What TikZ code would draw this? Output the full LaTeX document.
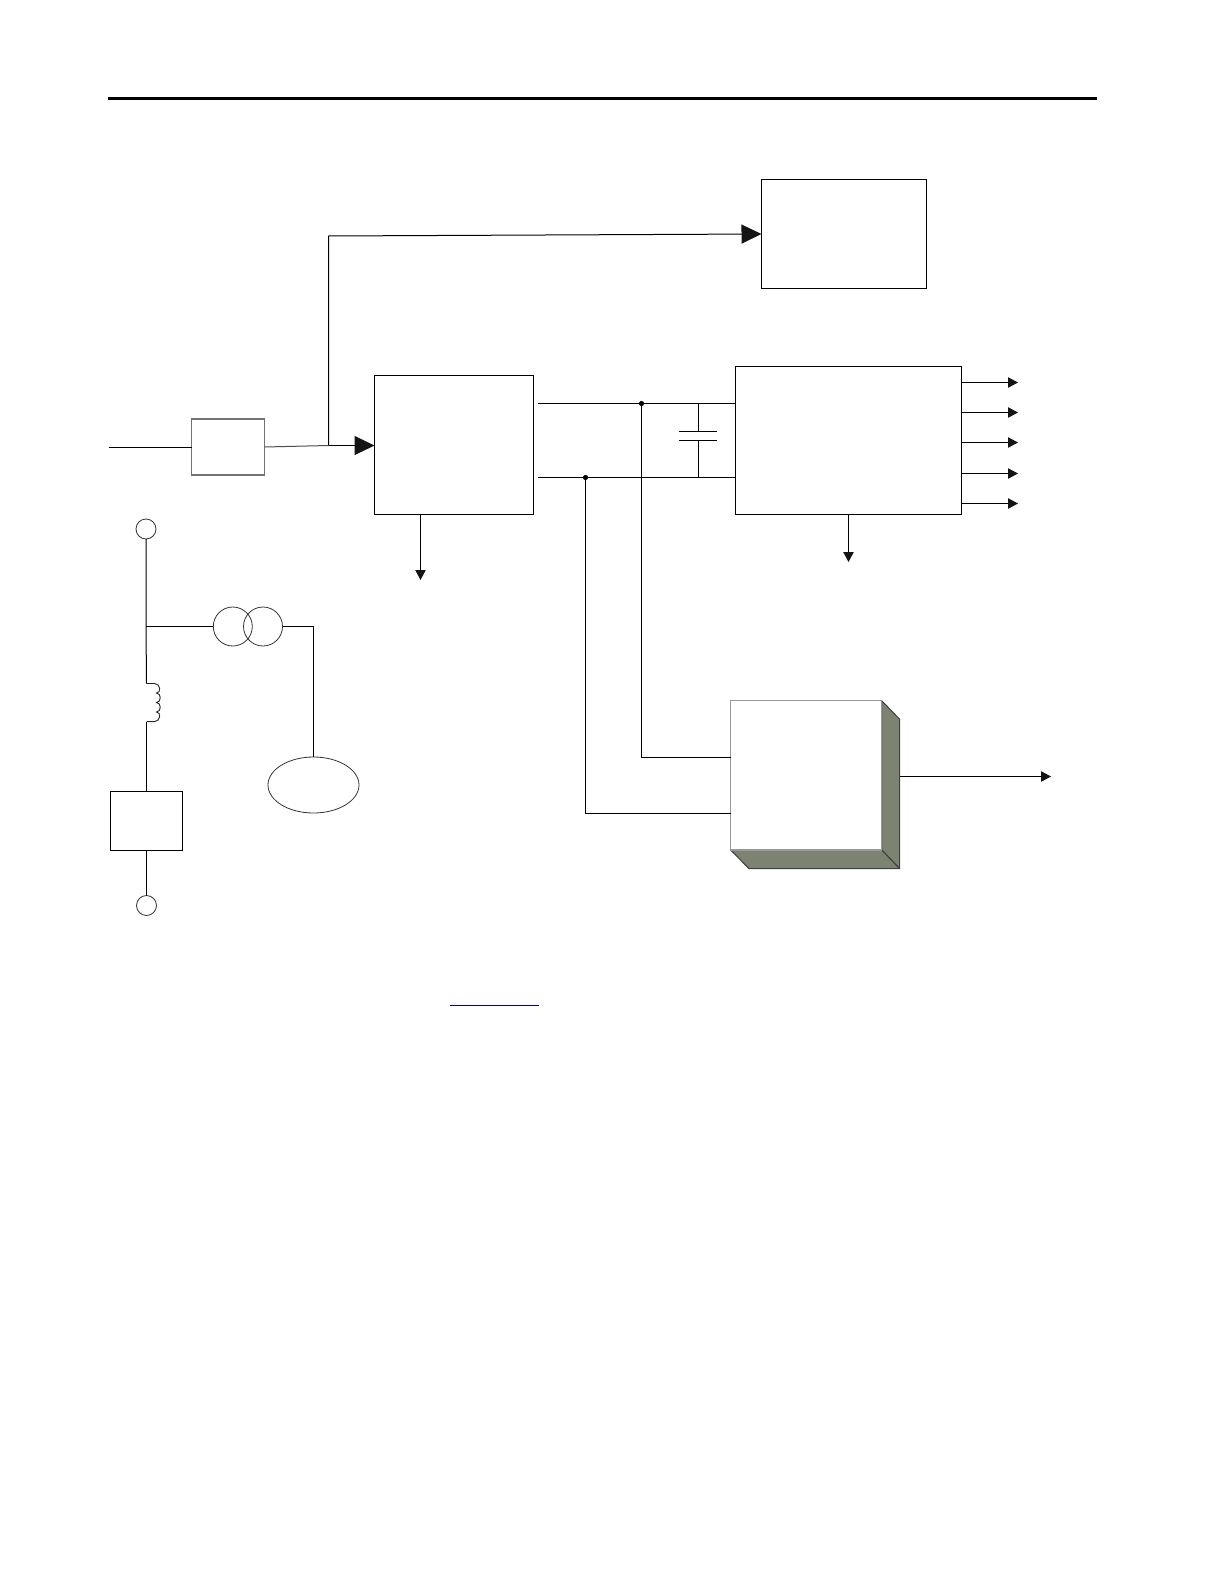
\documentclass[tikz,border=0pt]{standalone}
\usetikzlibrary{arrows.meta,shapes.geometric}
\definecolor{faceolive}{HTML}{7C8370}
\definecolor{linkblue}{HTML}{0000A0}
\tikzset{
  wire/.style={line width=0.5pt,black},
  bigarrow/.style={wire,-{Triangle[length=10pt,width=9.5pt,color=black!92]}},
  smallarrow/.style={wire,-{Triangle[length=5pt,width=5.2pt,color=black!92]}},
  sized/.style 2 args={minimum width=#1*0.5pt,minimum height=#2*0.5pt,inner sep=0pt,outer sep=0pt},
  blockbox/.style={draw=black,line width=0.5pt,rectangle},
  greybox/.style={draw=black!55,line width=0.6pt,rectangle},
  terminal/.style={draw=black!80,line width=0.4pt,circle,inner sep=0pt,outer sep=0pt,minimum size=10pt},
  coil/.style={draw=black!80,line width=0.4pt,circle,inner sep=0pt,outer sep=0pt,minimum size=19.5pt},
  junction/.style={circle,fill=black,inner sep=0pt,outer sep=0pt,minimum size=2.6pt},
  sideface/.style={fill=faceolive,draw=black!75,line width=0.5pt,line join=round},
}
\begin{document}
\begin{tikzpicture}[x=0.5pt,y=-0.5pt]
\useasboundingbox (0,0) rectangle (1224,1584);
% top rule
\coordinate (ruleL) at (108,98.5);
\coordinate (ruleR) at (1097,98.5);
\draw[line width=1.5pt] (ruleL) -- (ruleR);

% blocks
\node[blockbox,sized={165}{109}] (topbox) at (844,234) {};
\node[greybox,sized={73}{56}] (filter) at (228,447) {};
\node[blockbox,sized={159}{139}] (rect) at (454,445) {};
\node[blockbox,sized={226}{148}] (conv) at (848.5,440.5) {};
\node[blockbox,sized={72}{59}] (gen) at (146.5,821) {};
\node[terminal] (termT) at (146,529) {};
\node[terminal] (termB) at (146.5,905.5) {};
\node[coil] (coilL) at (232.8,626.5) {};
\node[coil] (coilR) at (263,626.5) {};
\node[ellipse,draw=black!80,line width=0.4pt,inner sep=0pt,outer sep=0pt,minimum width=45.5pt,minimum height=28pt] (load) at (313.5,785) {};

% 3-D block
\draw[sideface] (881.7,700.7) -- (899.7,719.3) -- (899.7,868.7) -- (881.7,850) -- cycle;
\draw[sideface] (730.7,850) -- (881.7,850) -- (899.7,868.7) -- (749,868.7) -- cycle;
\node[draw=black!40,line width=0.6pt,fill=white,sized={151}{149.3}] (ctrl) at (806.2,775.35) {};

% input and top feed
\coordinate (inL) at (108.5,447.5);
\coordinate (tee) at (328.5,445.5);
\draw[wire] (inL) -- (filter.west |- inL);
\draw[wire,black!70] (filter.east) -- (tee);
\draw[bigarrow] (tee) -- (rect.west |- tee);
\coordinate (feedTop) at (328.5,236);
\coordinate (feedEnd) at (topbox.west);
\draw[bigarrow] (tee) -- (feedTop) -- (feedEnd);

% DC bus
\coordinate (busAL) at (538,403.5);
\coordinate (busBL) at (538,477.5);
\draw[wire] (busAL) -- (conv.west |- busAL);
\draw[wire] (busBL) -- (conv.west |- busBL);
\node[junction] (jA) at (641.5,403.5) {};
\node[junction] (jB) at (585.5,477.5) {};

% capacitor
\coordinate (capTop) at (698.5,403.5);
\coordinate (capBot) at (698.5,477.5);
\coordinate (plateA) at (698.5,431.5);
\coordinate (plateB) at (698.5,440.5);
\coordinate (plateAL) at (679,431.5);
\coordinate (plateAR) at (716.7,431.5);
\coordinate (plateBL) at (679,440.5);
\coordinate (plateBR) at (716.7,440.5);
\draw[wire] (capTop) -- (plateA);
\draw[wire] (plateB) -- (capBot);
\draw[wire] (plateAL) -- (plateAR);
\draw[wire] (plateBL) -- (plateBR);

% converter outputs
\foreach \n/\yy in {a/382.5,b/412.5,c/442.5,d/473.5,e/503.5}{
  \coordinate (out\n) at (1018,\yy);
  \draw[smallarrow] (conv.east |- out\n) -- (out\n);
}
\coordinate (convDown) at (848.5,562);
\draw[smallarrow] (conv.south) -- (convDown);
\coordinate (rectDown) at (420.5,580);
\draw[smallarrow] (rect.south -| rectDown) -- (rectDown);

% feeds to 3-D block
\coordinate (ctrlA) at (ctrl.west |- 0,757.5);
\coordinate (ctrlB) at (ctrl.west |- 0,813.5);
\draw[wire] (jA) -- (jA |- ctrlA) -- (ctrlA);
\draw[wire] (jB) -- (jB |- ctrlB) -- (ctrlB);
\coordinate (ctrlOut) at (1051,776.5);
\coordinate (ctrlOutS) at (899.7,776.5);
\draw[smallarrow] (ctrlOutS) -- (ctrlOut);

% left-hand circuit
\coordinate (tap) at (146,626.5);
\coordinate (indT) at (146.5,683.5);
\coordinate (indB) at (146.5,721.6);
\draw[wire] (termT) -- (tap) -- (indT);
\draw[wire] (tap) -- (coilL);
\draw[draw=black!85,line width=0.45pt] (indT) -- ++(8,0)
  .. controls +(6,0) and +(5,0) .. ++(2,9.5)
  .. controls +(5,0) and +(5,0) .. ++(0,9.5)
  .. controls +(5,0) and +(5,0) .. ++(0,9.5)
  .. controls +(5,0) and +(6,0) .. ++(-2,9.6) -- (indB);
\draw[wire] (indB) -- (gen.north);
\draw[wire] (gen.south) -- (termB);
\coordinate (loadCorner) at (load.north |- coilR.east);
\draw[wire] (coilR) -- (loadCorner) -- (load);

% reference underline
\coordinate (linkL) at (450,1005.5);
\coordinate (linkR) at (538.7,1005.5);
\draw[linkblue,line width=0.6pt] (linkL) -- (linkR);
\end{tikzpicture}
\end{document}
